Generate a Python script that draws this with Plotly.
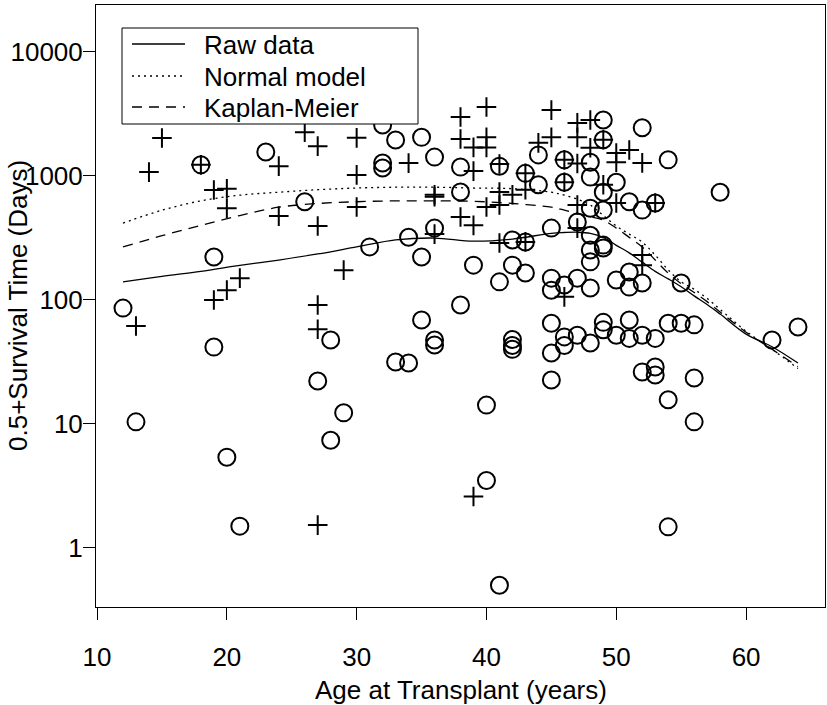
import plotly.graph_objects as go

# ---- data ----
death_age = [18, 23, 26, 32, 33, 35, 32, 32, 36, 38, 41, 43, 44, 44, 38, 49, 52, 49, 46, 48,
             54, 46, 48, 50, 49, 58, 51, 52, 53, 55, 64, 62, 50, 51, 51, 52, 49, 50, 51, 51,
             52, 53, 54, 55, 56, 52, 53, 53, 56, 54, 48, 49, 47, 45, 42, 43, 48, 48, 48, 49,
             49, 42, 43, 41, 45, 45, 46, 47, 48, 45, 42, 42, 42, 46, 46, 47, 48, 49, 45, 45,
             36, 34, 31, 35, 39, 38, 35, 36, 36, 33, 34, 40, 19, 12, 28, 19, 27, 13, 20, 21,
             28, 29, 40, 41, 56, 54]
death_time = [1230, 1560, 620, 2580, 1950, 2050, 1273, 1160, 1420, 1180, 1200, 1050, 1480, 850, 742, 2830, 2450, 1960, 1350, 1290,
              1350, 890, 980, 890, 740, 740, 620, 531, 605, 137, 60.6, 47.6, 145, 168, 127, 137, 66, 52, 69, 49,
              52, 49, 65, 65, 63, 26.3, 28.8, 24.8, 23.5, 15.7, 550, 531, 425, 380, 305, 294, 333, 253, 203, 277,
              263, 191, 165, 140, 150, 120, 132, 150, 125, 65, 48, 43, 40, 50.4, 43, 52, 45, 57.5, 37.4, 22.6,
              380, 321, 268, 222, 191, 91, 69, 47.5, 43.4, 31.6, 31, 14.2, 222, 86, 47.6, 41.7, 22.2, 10.4, 5.4, 1.5,
              7.4, 12.3, 3.5, 0.5, 10.4, 1.48]

cens_age = [15, 14, 18, 26, 27, 24, 19, 20, 30, 38, 40, 38, 39, 40, 40, 30, 34, 39, 41, 43,
            44, 45, 45, 41, 42, 43, 36, 47, 48, 47, 49, 48, 46, 47, 50, 50, 51, 52, 46, 49,
            50, 53, 52, 52, 47, 47, 41, 43, 46, 30, 36, 40, 41, 38, 39, 36, 29, 20, 24, 27,
            19, 20, 21, 13, 27, 27, 27, 39]
cens_time = [2024, 1075, 1230, 2250, 1740, 1200, 771, 790, 2030, 2990, 3600, 1990, 1700, 2050, 1700, 1020, 1270, 1095, 1250, 1050,
             1850, 2050, 3400, 742, 705, 775, 705, 2680, 2830, 2050, 1960, 1690, 1350, 1260, 1530, 1290, 1620, 1275, 890, 850,
             605, 605, 231, 191, 583, 380, 288, 294, 106, 562, 680, 562, 583, 467, 400, 340, 174, 550, 475, 395,
             100, 120, 150, 61.7, 91, 58, 1.53, 2.6]

curve_age = [12, 15, 18, 21, 24, 27, 30, 33, 36, 39, 42, 45, 46, 47, 48, 49, 50, 51, 52, 53,
             54, 55, 56, 57, 58, 60, 62, 64]
raw_curve = [140, 155, 170, 190, 210, 235, 268, 305, 316, 298, 310, 345, 350, 352, 345, 320, 276, 240, 202, 170,
             148, 128, 108, 92, 77, 53, 42, 31]
normal_curve = [417, 530, 630, 700, 740, 775, 800, 812, 812, 800, 790, 740, 700, 650, 583, 480, 395, 340, 293, 230,
                175, 140, 122, 103, 84, 56, 40, 28]
km_curve = [268, 330, 400, 480, 560, 600, 620, 630, 630, 625, 600, 560, 530, 500, 470, 440, 380, 320, 268, 210,
            165, 135, 115, 97, 80, 55, 40, 29]

legend_names = ["Raw data", "Normal model", "Kaplan-Meier"]
x_ticks = [10, 20, 30, 40, 50, 60]
y_ticks = [1, 10, 100, 1000, 10000]
y_ticktext = ["1", "10", "100", "1000", "10000"]
x_title = "Age at Transplant (years)"
y_title = "0.5+Survival Time (Days)"

FONT = "Liberation Sans, Arial, sans-serif"
W, H = 827, 705
ML, MR, MT, MB = 96, 2, 5, 98
PW, PH = W - ML - MR, H - MT - MB


def px_x(p):
    return (p - ML) / PW


def px_y(p):
    return 1 - (p - MT) / PH


dashes = ["solid", "2px,4px", "10px,7px"]

fig = go.Figure()
fig.add_trace(go.Scatter(x=death_age, y=death_time, mode="markers", showlegend=False,
                         marker=dict(symbol="circle-open", size=17, color="black",
                                     line=dict(width=2, color="black"))))
fig.add_trace(go.Scatter(x=cens_age, y=cens_time, mode="markers", showlegend=False,
                         marker=dict(symbol="cross-thin-open", size=14, color="black",
                                     line=dict(width=2, color="black"))))
for name, ys, dash in zip(legend_names, [raw_curve, normal_curve, km_curve], dashes):
    fig.add_trace(go.Scatter(x=curve_age, y=ys, mode="lines", name=name, showlegend=False,
                             line=dict(color="black", width=1.3, dash=dash, shape="spline")))

# legend box drawn like R's legend()
shapes = [dict(type="rect", xref="paper", yref="paper", x0=px_x(122), x1=px_x(418),
               y0=px_y(124), y1=px_y(28), line=dict(color="black", width=1),
               fillcolor="white", layer="above")]
annotations = []
row_y = [44, 76, 107]
for name, dash, ry in zip(legend_names, dashes, row_y):
    shapes.append(dict(type="line", xref="paper", yref="paper", x0=px_x(132), x1=px_x(185),
                       y0=px_y(ry), y1=px_y(ry), line=dict(color="black", width=1.3, dash=dash),
                       layer="above"))
    annotations.append(dict(text=name, xref="paper", yref="paper", x=px_x(202), y=px_y(ry + 1),
                            xanchor="left", yanchor="middle", showarrow=False,
                            font=dict(size=26)))
annotations.append(dict(text=y_title, xref="paper", yref="paper", x=px_x(18), y=px_y(306),
                        xanchor="center", yanchor="middle", textangle=-90, showarrow=False,
                        font=dict(size=26)))
annotations.append(dict(text=x_title, xref="paper", yref="paper", x=0.5, y=px_y(690),
                        xanchor="center", yanchor="middle", showarrow=False,
                        font=dict(size=26)))

fig.update_layout(
    width=W, height=H,
    margin=dict(l=ML, r=MR, t=MT, b=MB),
    paper_bgcolor="white", plot_bgcolor="white",
    font=dict(family=FONT, size=26, color="black"),
    showlegend=False,
    shapes=shapes, annotations=annotations,
)
fig.update_xaxes(range=[9.92, 66.08], tickvals=x_ticks, ticks="outside", ticklen=12,
                 tickcolor="black", showline=True, linecolor="black", linewidth=1, mirror=True,
                 showgrid=False, zeroline=False, ticklabelstandoff=15, automargin=False)
fig.update_yaxes(type="log", range=[-0.476, 4.379], tickvals=y_ticks, ticktext=y_ticktext,
                 ticks="outside", ticklen=12, tickcolor="black", showline=True, linecolor="black",
                 linewidth=1, mirror=True, showgrid=False, zeroline=False, ticklabelstandoff=-5,
                 automargin=False)

fig.write_html("out.html", config={"displayModeBar": False},
               post_script="document.body.style.margin='0px';")
